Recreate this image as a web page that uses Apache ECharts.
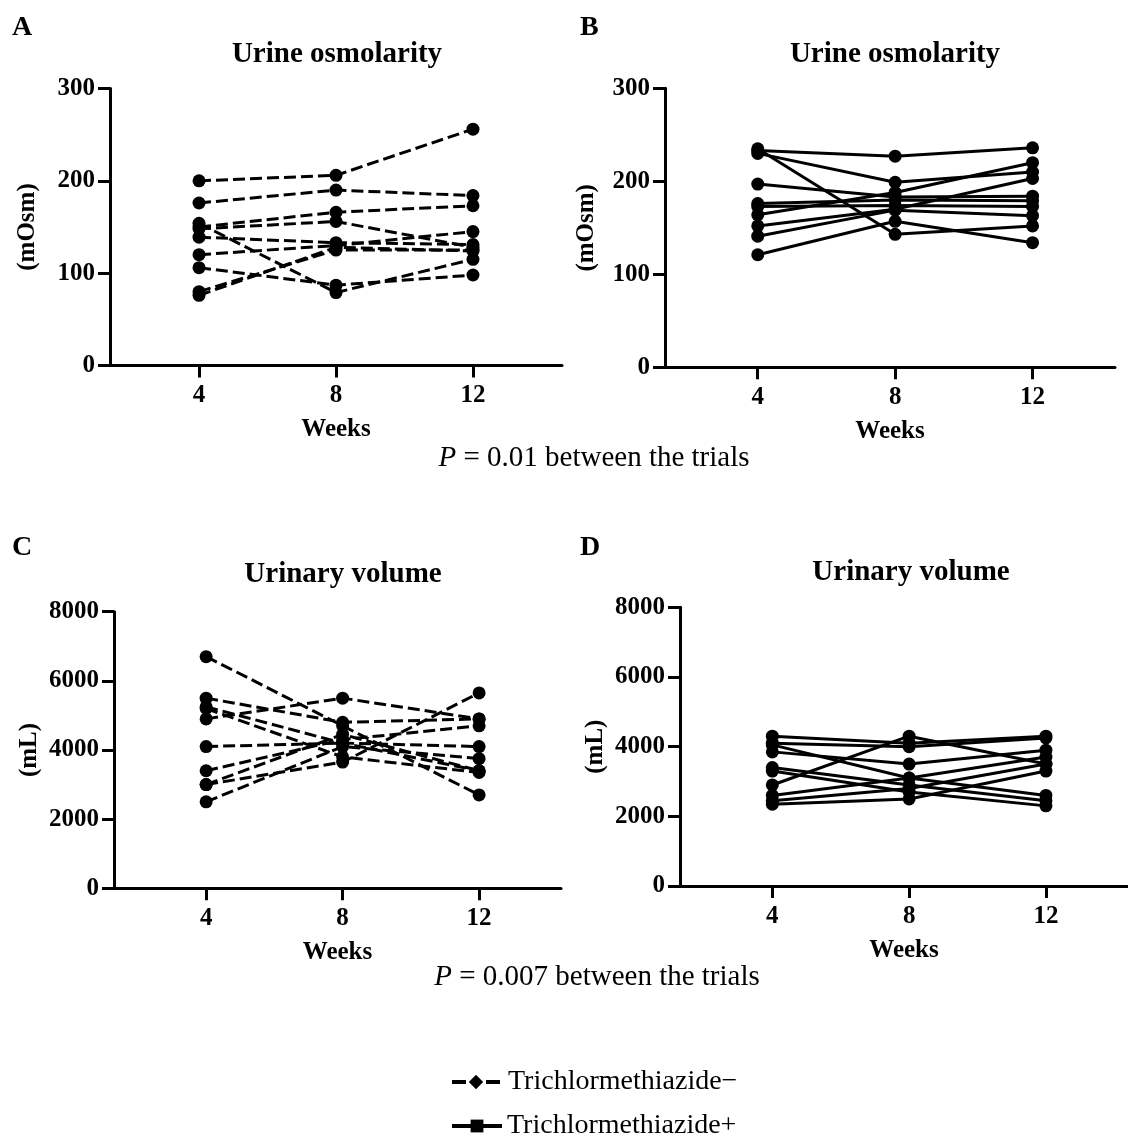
<!DOCTYPE html>
<html>
<head>
<meta charset="utf-8">
<script src="https://cdn.jsdelivr.net/npm/echarts@6/dist/echarts.min.js"></script>
<style>
  html, body { margin: 0; padding: 0; background: #fff; }
  #chart { width: 1128px; height: 1139px; }
</style>
</head>
<body>
<div id="chart"></div>
<script>
    // weeks of follow-up (x positions)
    const weeks = [4, 8, 12]

    // urine osmolarity (mOsm), one row per patient: week 4, 8, 12
    const osmMinus = [
        [200, 206, 256],
        [176, 190, 184],
        [150, 166, 173],
        [148, 156, 128],
        [154, 79, 115],
        [139, 133, 131],
        [120, 130, 145],
        [106, 87, 98],
        [80, 125, 125],
        [76, 128, 124]
    ]
    const osmPlus = [
        [233, 227, 236],
        [230, 199, 210],
        [235, 143, 152],
        [197, 183, 184],
        [176, 180, 179],
        [173, 174, 173],
        [164, 188, 220],
        [152, 170, 203],
        [141, 169, 163],
        [121, 157, 134]
    ]

    // urinary volume (mL)
    const volMinus = [
        [6700, 4700, 2700],
        [5500, 4800, 4900],
        [4900, 5500, 4900],
        [5250, 4200, 3400],
        [5200, 3800, 3350],
        [4100, 4200, 4100],
        [3400, 4300, 4700],
        [3000, 3650, 5650],
        [3000, 4450, 3400],
        [2500, 4100, 3750]
    ]
    const volPlus = [
        [4300, 4100, 4300],
        [4100, 4000, 4250],
        [4050, 3100, 2600],
        [3850, 3500, 3900],
        [3400, 2900, 2450],
        [3300, 2700, 2300],
        [2900, 4300, 3500],
        [2600, 3100, 3700],
        [2450, 2800, 3500],
        [2350, 2500, 3300]
    ]

    const osmTicks = [0, 300, 100]
    const volTicks = [0, 8000, 2000]

    const FONT = "'Liberation Serif', 'Times New Roman', serif"
    const BLACK = '#000'

    let chart = echarts.init(document.getElementById('chart'))

    // one panel = grid + axes
    function makeGrid(left, top, width, height){
        return { left: left, top: top, width: width, height: height, containLabel: false }
    }
    function makeX(idx, min, max){
        return {
            gridIndex: idx,
            type: 'value',
            min: min,
            max: max,
            name: 'Weeks',
            nameLocation: 'middle',
            nameGap: 52,
            nameTextStyle: { fontFamily: FONT, fontWeight: 'bold', fontSize: 25, color: BLACK },
            axisLine: { show: true, onZero: false, lineStyle: { color: BLACK, width: 3 } },
            axisTick: { show: true, customValues: weeks, length: 12, lineStyle: { color: BLACK, width: 3 } },
            axisLabel: { customValues: weeks, margin: 18, fontFamily: FONT, fontWeight: 'bold', fontSize: 25, color: BLACK },
            splitLine: { show: false }
        }
    }
    function makeY(idx, ticks, name, gap){
        return {
            gridIndex: idx,
            type: 'value',
            min: ticks[0],
            max: ticks[1],
            interval: ticks[2],
            name: name,
            nameLocation: 'middle',
            nameGap: gap,
            nameTextStyle: { fontFamily: FONT, fontWeight: 'bold', fontSize: 25, color: BLACK },
            axisLine: { show: true, onZero: false, lineStyle: { color: BLACK, width: 3 } },
            axisTick: { show: true, length: 12, lineStyle: { color: BLACK, width: 3 } },
            axisLabel: {
                margin: 15, fontFamily: FONT, fontWeight: 'bold', fontSize: 25, color: BLACK,
                formatter: v => String(v)
            },
            splitLine: { show: false }
        }
    }
    function makeLines(rows, idx, dashed, tag){
        return rows.map((row, i) => ({
            name: tag + (i + 1),
            type: 'line',
            xAxisIndex: idx,
            yAxisIndex: idx,
            data: weeks.map((w, k) => [w, row[k]]),
            symbol: 'circle',
            symbolSize: 13,
            itemStyle: { color: BLACK },
            lineStyle: { color: BLACK, width: 3, type: dashed ? [12, 5] : 'solid' },
            clip: false,
            silent: true
        }))
    }
    function label(text, x, y, size, bold, align){
        return {
            type: 'text',
            x: x,
            y: y,
            style: {
                text: text,
                fontFamily: FONT,
                fontSize: size,
                fontWeight: bold ? 'bold' : 'normal',
                fill: BLACK,
                align: align || 'center',
                textAlign: align || 'center',
                verticalAlign: 'middle',
                textVerticalAlign: 'middle',
                rich: {
                    i: { fontFamily: FONT, fontSize: size, fontStyle: 'italic', fill: BLACK, color: BLACK }
                }
            }
        }
    }

    let series = []
        .concat(makeLines(osmMinus, 0, true, 'A'))
        .concat(makeLines(osmPlus, 1, false, 'B'))
        .concat(makeLines(volMinus, 2, true, 'C'))
        .concat(makeLines(volPlus, 3, false, 'D'))

    // legend-only series
    series.push({
        name: 'Trichlormethiazide\u2212', type: 'line', xAxisIndex: 0, yAxisIndex: 0, data: [],
        symbol: 'diamond', itemStyle: { color: BLACK },
        lineStyle: { color: BLACK, width: 4, type: [14, 20] }
    })
    series.push({
        name: 'Trichlormethiazide+', type: 'line', xAxisIndex: 0, yAxisIndex: 0, data: [],
        symbol: 'rect', itemStyle: { color: BLACK },
        lineStyle: { color: BLACK, width: 4, type: 'solid' }
    })

    let option = {
        animation: false,
        backgroundColor: '#fff',
        grid: [
            makeGrid(110, 88.5, 452, 277),
            makeGrid(665, 88.3, 450, 279),
            makeGrid(114, 611.7, 447, 276.6),
            makeGrid(680, 607.3, 448, 278.7)
        ],
        xAxis: [
            makeX(0, 1.4, 14.6),
            makeX(1, 1.3, 14.4),
            makeX(2, 1.3, 14.4),
            makeX(3, 1.3, 14.4)
        ],
        yAxis: [
            makeY(0, osmTicks, '(mOsm)', 70),
            makeY(1, osmTicks, '(mOsm)', 66),
            makeY(2, volTicks, '(mL)', 72),
            makeY(3, volTicks, '(mL)', 72)
        ],
        legend: [
            {
                data: ['Trichlormethiazide\u2212'],
                left: 445, top: 1063,
                itemWidth: 48, itemHeight: 18,
                selectedMode: false,
                lineStyle: { width: 4, type: [14, 20] },
                textStyle: { fontFamily: FONT, fontSize: 28, color: BLACK, padding: [0, 0, 0, 3] }
            },
            {
                data: ['Trichlormethiazide+'],
                left: 445, top: 1107,
                itemWidth: 50, itemHeight: 16,
                selectedMode: false,
                lineStyle: { width: 4 },
                textStyle: { fontFamily: FONT, fontSize: 28, color: BLACK }
            }
        ],
        graphic: [
            label('A', 12, 28, 28, true, 'left'),
            label('B', 580, 28, 28, true, 'left'),
            label('C', 12, 548, 28, true, 'left'),
            label('D', 580, 548, 28, true, 'left'),
            label('Urine osmolarity', 337, 55, 29, true),
            label('Urine osmolarity', 895, 55, 29, true),
            label('Urinary volume', 343, 575, 29, true),
            label('Urinary volume', 911, 573, 29, true),
            label('{i|P} = 0.01 between the trials', 594, 458, 29, false),
            label('{i|P} = 0.007 between the trials', 597, 977, 29, false)
        ],
        series: series
    }
    chart.setOption(option)
</script>
</body>
</html>
